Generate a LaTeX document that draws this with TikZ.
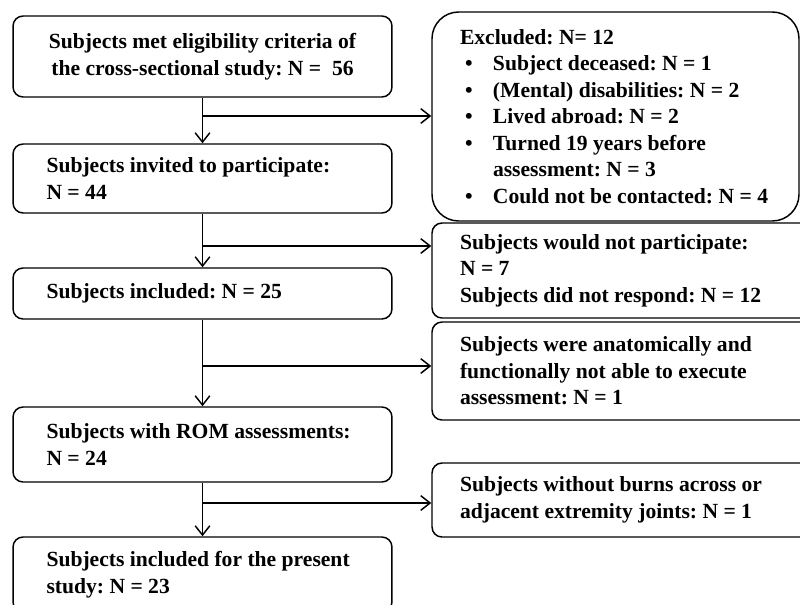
\documentclass[tikz,border=0pt]{standalone}
\usepackage{fontspec}
\setmainfont{Liberation Serif}
\usetikzlibrary{arrows.meta}
\newcommand{\bul}{\makebox[24.75pt][l]{\hspace{3.75pt}\textbullet}}
\begin{document}
\begin{tikzpicture}[x=0.75pt,y=-0.75pt]
				\tikzstyle{box}=[draw=black, line width=1.1pt, rounded corners=7.5pt, inner xsep=25.1pt, inner ysep=2pt, text width=234pt, align=flush left, font=\fontsize{16.2}{19.9}\selectfont\bfseries\frenchspacing]
				\tikzstyle{side}=[box, inner xsep=21pt, text width=258pt]
				\tikzstyle{edge}=[draw=black, line width=1.1pt]
				\tikzstyle{arrow}=[edge, -{Straight Barb[length=7pt,width=11pt]}]

				\useasboundingbox (0,0) rectangle (800,604);
				\clip (0,0) rectangle (800,604);

				% main line
				\node [box, align=flush center, minimum height=60.75pt] (elig) at (202.5,56.5) {Subjects met eligibility criteria of\\ the cross-sectional study: N =~ 56};
				\node [box, minimum height=51.75pt] (invited) at (202.5,178.5) {Subjects invited to participate:\\ N = 44};
				\node [box, minimum height=38.25pt] (incl) at (202.5,293.5) {Subjects included: N = 25};
				\node [box, minimum height=56.25pt] (rom) at (202.5,444.5) {Subjects with ROM assessments:\\ N = 24};
				\node [box, minimum height=56.25pt] (present) at (202.5,574.5) {Subjects included for the present\\ study: N = 23};

				% drop-outs
				\node [box, inner xsep=21pt, text width=233.25pt, rounded corners=20pt, minimum height=156.75pt] (excl) at (615.5,116.5) {Excluded: N= 12\\
					\bul Subject deceased: N = 1\\
					\bul (Mental) disabilities: N = 2\\
					\bul Lived abroad: N = 2\\
					\bul Turned 19 years before\\
					\hspace*{24.75pt}assessment: N = 3\\
					\bul Could not be contacted: N = 4};
				\node [side, minimum height=71.25pt] (refused) at (632,270.5) {Subjects would not participate:\\ N = 7\\ Subjects did not respond: N = 12};
				\node [side, minimum height=73.5pt] (unable) at (632,371) {Subjects were anatomically and\\ functionally not able to execute\\ assessment: N = 1};
				\node [side, minimum height=55.5pt] (noburn) at (632,500) {Subjects without burns across or\\ adjacent extremity joints: N = 1};

				\coordinate (b1) at (202.5,116);
				\coordinate (b2) at (202.5,246);
				\coordinate (b3) at (202.5,366);
				\coordinate (b4) at (202.5,503);

				\path[arrow] (elig) -- (invited);
				\path[arrow] (invited) -- (incl);
				\path[arrow] (incl) -- (rom);
				\path[arrow] (rom) -- (present);

				\path[arrow] (b1) -- (b1 -| excl.west);
				\path[arrow] (b2) -- (b2 -| refused.west);
				\path[arrow] (b3) -- (b3 -| unable.west);
				\path[arrow] (b4) -- (b4 -| noburn.west);
			\end{tikzpicture}
\end{document}
